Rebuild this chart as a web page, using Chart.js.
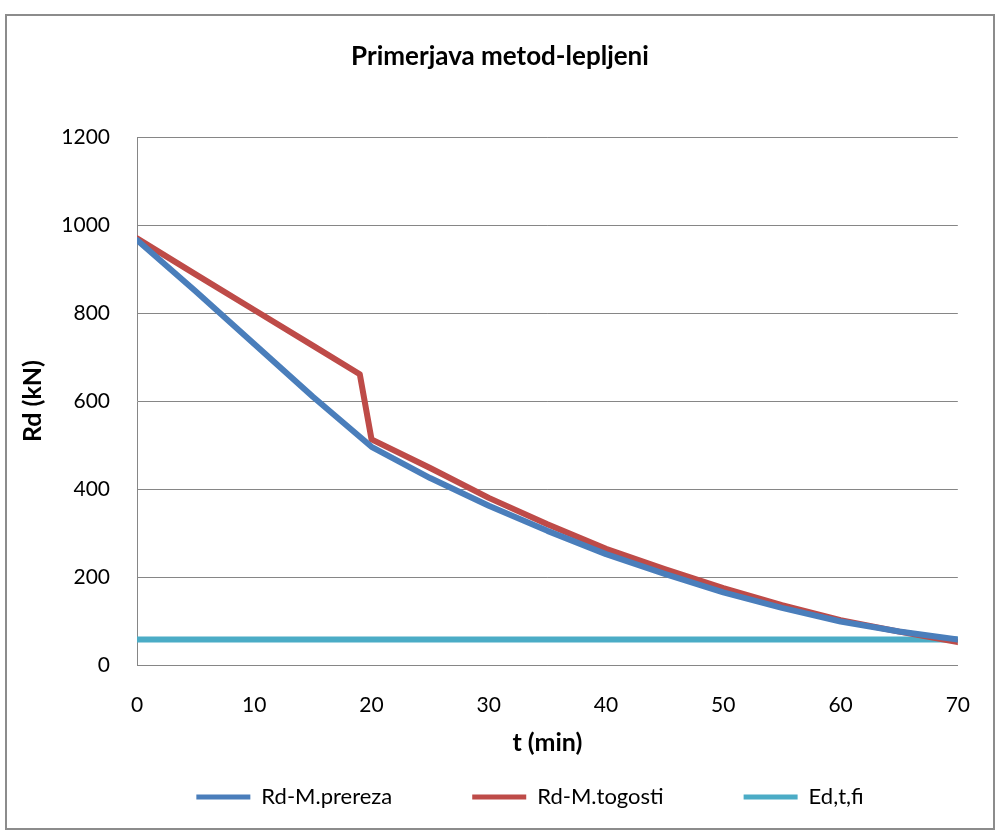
<!DOCTYPE html>
<html>
<head>
<meta charset="utf-8">
<title>Primerjava metod-lepljeni</title>
<script src="https://cdn.jsdelivr.net/npm/chart.js@4/dist/chart.umd.min.js"></script>
<style>
  html, body { margin: 0; padding: 0; background: #fff; }
  #frame {
    position: absolute; left: 5px; top: 14px; width: 990px; height: 816px;
    border: 2px solid #8c8c8c; box-sizing: border-box; pointer-events: none;
  }
  #chart { position: absolute; left: 0; top: 0; }
</style>
</head>
<body>
<canvas id="chart" width="998" height="832"></canvas>
<div id="frame"></div>
<script>
// t (min) and Rd (kN) for each method
const tPrereza = [0, 5, 10, 15, 20, 25, 30, 35, 40, 45, 50, 55, 60, 65, 70];
const rdPrereza = [966, 850, 730, 610, 496, 425, 362, 305, 252, 207, 165, 130, 99, 76, 58];

const tTogosti = [0, 5, 10, 15, 19, 20, 25, 30, 35, 40, 45, 50, 55, 60, 65, 70];
const rdTogosti = [970, 888, 807, 726, 661, 513, 448, 380, 320, 264, 218, 175, 136, 102, 76, 52];

const tEd = [0, 70];
const edValues = [58, 58];

const seriesNames = ['Rd-M.prereza', 'Rd-M.togosti', 'Ed,t,fi'];
const seriesColors = ['#4a7ebb', '#be4b48', '#4bacc6'];

const FONT = 'Lato, "Liberation Sans", sans-serif';

function toPoints(xs, ys) {
    return xs.map((x, i) => ({ x: x, y: ys[i] }));
}

function lineDataset(i, xs, ys) {
    return {
        label: seriesNames[i],
        data: toPoints(xs, ys),
        borderColor: seriesColors[i],
        backgroundColor: seriesColors[i],
        borderWidth: 6,
        borderCapStyle: 'round',
        borderJoinStyle: 'round',
        pointRadius: 0,
        tension: 0,
        showLine: true
    };
}

// title and legend get their own centre x (and a small vertical nudge)
const placeBoxes = {
    id: 'placeBoxes',
    afterLayout(chart, args, opts) {
        const move = (box, pos) => {
            if (!box || !pos) return;
            const half = (box.right - box.left) / 2;
            box.left = pos.x - half;
            box.right = pos.x + half;
            box.top += pos.dy || 0;
            box.bottom += pos.dy || 0;
        };
        move(chart.titleBlock, opts.title);
        move(chart.legend, opts.legend);
    }
};

const ctx = document.getElementById('chart').getContext('2d');
new Chart(ctx, {
    type: 'scatter',
    data: {
        datasets: [
            lineDataset(0, tPrereza, rdPrereza),
            lineDataset(1, tTogosti, rdTogosti),
            lineDataset(2, tEd, edValues)
        ]
    },
    plugins: [placeBoxes],
    options: {
        responsive: false,
        animation: false,
        layout: { padding: { left: 0, right: 38, top: 0, bottom: 8 } },
        plugins: {
            placeBoxes: { title: { x: 500 }, legend: { x: 530, dy: -6 } },
            tooltip: { enabled: false },
            title: {
                display: true,
                text: 'Primerjava metod-lepljeni',
                color: '#000',
                font: { family: FONT, size: 26, weight: 'bold' },
                padding: { top: 41, bottom: 65 }
            },
            legend: {
                position: 'bottom',
                labels: {
                    color: '#000',
                    font: { family: FONT, size: 22 },
                    boxWidth: 54,
                    boxHeight: 5,
                    padding: 80,
                    generateLabels: chart =>
                        Chart.defaults.plugins.legend.labels.generateLabels(chart)
                            .map(item => ({ ...item, lineWidth: 0 }))
                }
            }
        },
        scales: {
            x: {
                type: 'linear',
                min: 0,
                max: 70,
                afterFit: scale => { scale.height = 47; },
                ticks: {
                    stepSize: 10,
                    color: '#000',
                    padding: 28,
                    font: { family: FONT, size: 21 },
                    callback: v => String(v)
                },
                grid: { display: false, drawTicks: false },
                border: { display: true, color: '#868686', width: 1 },
                title: {
                    display: true,
                    text: 't (min)',
                    color: '#000',
                    font: { family: FONT, size: 25, weight: 'bold' },
                    padding: { top: 0, bottom: -46 }
                }
            },
            y: {
                min: 0,
                max: 1200,
                afterFit: scale => { scale.width = 137; },
                ticks: {
                    stepSize: 200,
                    color: '#000',
                    padding: 27,
                    font: { family: FONT, size: 21 },
                    callback: v => String(v)
                },
                grid: { color: '#868686', lineWidth: 1, drawTicks: false },
                border: { display: true, color: '#868686', width: 1 },
                title: {
                    display: true,
                    text: 'Rd (kN)',
                    color: '#000',
                    font: { family: FONT, size: 25, weight: 'bold' },
                    padding: { top: 18, bottom: 0 }
                }
            }
        }
    }
});
</script>
</body>
</html>
